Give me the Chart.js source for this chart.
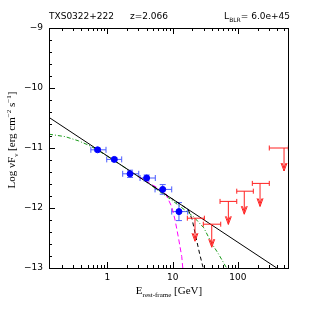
<!DOCTYPE html>
<html>
<head>
<meta charset="utf-8">
<script src="https://cdn.jsdelivr.net/npm/chart.js@4.4.1/dist/chart.umd.min.js"></script>
<style>
html, body { margin: 0; padding: 0; background: #fff; }
</style>
</head>
<body>
<canvas id="sedChart" width="316" height="316"></canvas>
<script>
// Fermi points (rest-frame GeV, log nuFnu)
const fermiE   = [0.71, 1.28, 2.23, 4.0, 7.05, 12.5];
const fermiF   = [-11.03, -11.19, -11.43, -11.50, -11.69, -12.06];
const fermiElo = [0.56, 0.98, 1.72, 3.17, 5.38, 9.69];
const fermiEhi = [0.955, 1.66, 3.03, 5.43, 9.69, 17.0];
const fermiErr = [0.03, 0.03, 0.06, 0.05, 0.08, 0.15];

// upper limits
const ulE   = [22, 39.7, 71.3, 125, 218, 508];
const ulF   = [-12.17, -12.27, -11.89, -11.72, -11.59, -11.0];
const ulElo = [16.8, 29.5, 53.2, 95.9, 166, 302];
const ulEhi = [30.6, 54.5, 95.9, 172, 302, 591];

// model curves
const powerLaw   = [{x: 0.128, y: -10.49}, {x: 393, y: -13.0}];
const greenModel = [
    {x: 0.128, y: -10.77}, {x: 0.225, y: -10.81}, {x: 0.36, y: -10.88}, {x: 0.51, y: -10.95},
    {x: 0.65, y: -11.01}, {x: 1.2, y: -11.19}, {x: 2.2, y: -11.38}, {x: 4.0, y: -11.57},
    {x: 7.0, y: -11.76}, {x: 10, y: -11.88}, {x: 20.7, y: -12.14}, {x: 30, y: -12.33},
    {x: 39.7, y: -12.59}, {x: 50, y: -12.76}, {x: 67, y: -13.0}
];
const blackCut = [
    {x: 5, y: -11.636}, {x: 10, y: -11.853}, {x: 14, y: -11.958}, {x: 17.4, y: -12.03},
    {x: 20, y: -12.2}, {x: 22.9, y: -12.5}, {x: 26, y: -12.77}, {x: 29.4, y: -13.0}
];
const magentaCut = [
    {x: 3, y: -11.48}, {x: 5, y: -11.62}, {x: 7.65, y: -11.74}, {x: 9.69, y: -11.98},
    {x: 10.9, y: -12.2}, {x: 12.2, y: -12.48}, {x: 13.8, y: -12.81}, {x: 14.3, y: -13.0}
];

// axes
const xLabelTicks = [1, 10, 100];
const xMinorTicks = [0.2, 0.3, 0.4, 0.5, 0.6, 0.7, 0.8, 0.9, 2, 3, 4, 5, 6, 7, 8, 9,
                     20, 30, 40, 50, 60, 70, 80, 90, 200, 300, 400, 500];
const yLabelTicks = [-13, -12, -11, -10, -9];

const SANS = '"DejaVu Sans", sans-serif';
const SERIF = '"Liberation Serif", serif';

function line(ctx, x0, y0, x1, y1) {
    ctx.beginPath();
    ctx.moveTo(x0, y0);
    ctx.lineTo(x1, y1);
    ctx.stroke();
}

// text pieces with sub/superscripts
function richText(ctx, parts, x, y, size, family, align) {
    let total = 0;
    const widths = parts.map(p => {
        ctx.font = (p[1] === 'n' ? size : Math.round(size * 0.62)) + 'px ' + family;
        const w = ctx.measureText(p[0]).width;
        total += w;
        return w;
    });
    let cx = align === 'center' ? x - total / 2 : (align === 'right' ? x - total : x);
    ctx.textAlign = 'left';
    ctx.textBaseline = 'alphabetic';
    parts.forEach((p, i) => {
        let dy = 0;
        if (p[1] === 'sub') dy = size * 0.3;
        if (p[1] === 'sup') dy = -size * 0.4;
        ctx.font = (p[1] === 'n' ? size : Math.round(size * 0.62)) + 'px ' + family;
        ctx.fillText(p[0], cx, y + dy);
        cx += widths[i];
    });
}

const sedDecor = {
    id: 'sedDecor',
    beforeDatasetsDraw(chart) {
        const ctx = chart.ctx, xs = chart.scales.x, ys = chart.scales.y;
        ctx.save();
        ctx.strokeStyle = '#4a5cff';
        ctx.lineWidth = 1;
        for (let i = 0; i < fermiE.length; i++) {
            const px = xs.getPixelForValue(fermiE[i]);
            const py = ys.getPixelForValue(fermiF[i]);
            const x0 = xs.getPixelForValue(fermiElo[i]);
            const x1 = xs.getPixelForValue(fermiEhi[i]);
            const y0 = ys.getPixelForValue(fermiF[i] - fermiErr[i]);
            const y1 = ys.getPixelForValue(fermiF[i] + fermiErr[i]);
            line(ctx, x0, py, x1, py);
            line(ctx, x0, py - 3, x0, py + 3);
            line(ctx, x1, py - 3, x1, py + 3);
            line(ctx, px, y0, px, y1);
            line(ctx, px - 3, y0, px + 3, y0);
            line(ctx, px - 3, y1, px + 3, y1);
        }
        ctx.restore();
    },
    afterDatasetsDraw(chart) {
        const ctx = chart.ctx, xs = chart.scales.x, ys = chart.scales.y;
        ctx.save();
        ctx.strokeStyle = '#ff2020';
        ctx.lineWidth = 1;
        for (let i = 0; i < ulE.length; i++) {
            const px = xs.getPixelForValue(ulE[i]);
            const py = ys.getPixelForValue(ulF[i]);
            const x0 = xs.getPixelForValue(ulElo[i]);
            const x1 = Math.min(xs.getPixelForValue(ulEhi[i]), chart.chartArea.right);
            line(ctx, x0, py, x1, py);
            line(ctx, x0, py - 2.5, x0, py + 2.5);
            line(ctx, x1, py - 2.5, x1, py + 2.5);
            line(ctx, px, py, px, py + 23);
            line(ctx, px, py + 23, px - 3, py + 15);
            line(ctx, px, py + 23, px + 3, py + 15);
            line(ctx, px, py + 20, px - 2, py + 15);
            line(ctx, px, py + 20, px + 2, py + 15);
        }
        ctx.restore();
    },
    afterDraw(chart) {
        const ctx = chart.ctx, xs = chart.scales.x, ys = chart.scales.y, a = chart.chartArea;
        ctx.save();
        ctx.strokeStyle = '#000';
        ctx.lineWidth = 1;
        ctx.strokeRect(a.left + 0.5, a.top + 0.5, a.right - a.left - 1, a.bottom - a.top);

        // inward ticks: bottom, top and left
        xLabelTicks.forEach(v => {
            const x = Math.round(xs.getPixelForValue(v)) + 0.5;
            line(ctx, x, a.bottom, x, a.bottom - 6);
            line(ctx, x, a.top, x, a.top + 6);
        });
        xMinorTicks.forEach(v => {
            const x = Math.round(xs.getPixelForValue(v)) + 0.5;
            line(ctx, x, a.bottom, x, a.bottom - 3);
            line(ctx, x, a.top, x, a.top + 3);
        });
        for (let k = 0; k <= 20; k++) {
            const v = -13 + k * 0.2;
            const y = Math.round(ys.getPixelForValue(v)) + 0.5;
            line(ctx, a.left, y, a.left + (k % 5 === 0 ? 6 : 3), y);
        }

        ctx.fillStyle = '#000';
        // header
        ctx.font = '9px ' + SANS;
        ctx.textAlign = 'left';
        ctx.textBaseline = 'alphabetic';
        ctx.fillText('TXS0322+222', 49, 19);
        ctx.fillText('z=2.066', 130, 19);
        richText(ctx, [['L', 'n'], ['BLR', 'sub'], ['= 6.0e+45', 'n']], 290, 19, 9, SANS, 'right');

        // axis titles
        richText(ctx, [['E', 'n'], ['rest-frame', 'sub'], [' [GeV]', 'n']], 169, 294, 11, SERIF, 'center');
        ctx.translate(15, 140);
        ctx.rotate(-Math.PI / 2);
        richText(ctx, [['Log \u03bdF', 'n'], ['\u03bd', 'sub'], [' [erg cm', 'n'], ['\u22122', 'sup'],
                       [' s', 'n'], ['\u22121', 'sup'], [']', 'n']], 0, 0, 11, SERIF, 'center');
        ctx.restore();
    }
};

const curveStyle = { showLine: true, pointRadius: 0, borderWidth: 1, fill: false };

new Chart(document.getElementById('sedChart'), {
    type: 'scatter',
    data: {
        datasets: [
            {
                label: 'Fermi',
                data: fermiE.map((e, i) => ({x: e, y: fermiF[i]})),
                pointRadius: 3,
                pointBackgroundColor: '#0000ff',
                pointBorderColor: '#0000ff',
                showLine: false
            },
            Object.assign({label: 'powerlaw', data: powerLaw, borderColor: '#000'}, curveStyle),
            Object.assign({label: 'cut', data: blackCut, borderColor: '#000', borderDash: [4, 3]}, curveStyle),
            Object.assign({label: 'magenta', data: magentaCut, borderColor: '#ff00ff', borderDash: [5, 3]}, curveStyle),
            Object.assign({label: 'model', data: greenModel, borderColor: '#1a9a1a', borderDash: [4, 2, 1, 2]}, curveStyle)
        ]
    },
    options: {
        responsive: false,
        animation: false,
        layout: { padding: { left: 0, right: 27, top: 28, bottom: 0 } },
        plugins: { legend: { display: false }, tooltip: { enabled: false } },
        scales: {
            x: {
                type: 'logarithmic',
                min: 0.128,
                max: 605,
                grid: { display: false, drawTicks: false },
                border: { display: false },
                afterBuildTicks: s => { s.ticks = xLabelTicks.map(v => ({value: v})); },
                afterFit: s => { s.height = 48; },
                ticks: {
                    autoSkip: false,
                    maxRotation: 0,
                    padding: 4,
                    color: '#000',
                    font: { family: SANS, size: 9 },
                    callback: v => String(v)
                }
            },
            y: {
                min: -13,
                max: -9,
                grid: { display: false, drawTicks: false },
                border: { display: false },
                afterBuildTicks: s => { s.ticks = yLabelTicks.map(v => ({value: v})); },
                afterFit: s => { s.width = 49; },
                ticks: {
                    padding: 6,
                    color: '#000',
                    font: { family: SANS, size: 9 },
                    callback: v => '\u2212' + Math.abs(v)
                }
            }
        }
    },
    plugins: [sedDecor]
});
</script>
</body>
</html>
